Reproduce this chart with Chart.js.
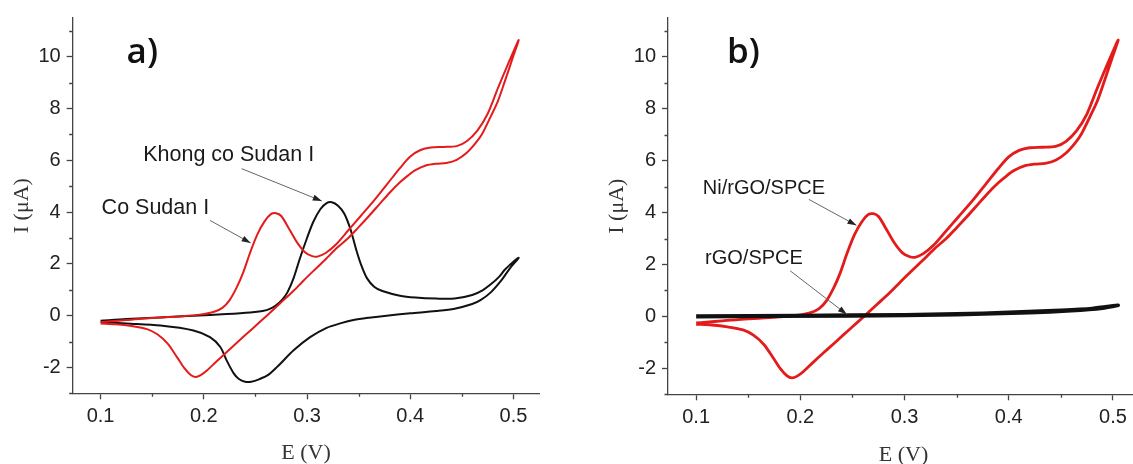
<!DOCTYPE html>
<html>
<head>
<meta charset="utf-8">
<script src="https://cdn.jsdelivr.net/npm/chart.js@4.4.1/dist/chart.umd.min.js"></script>
<style>
    html, body { margin: 0; padding: 0; background: #fff; }
    body { width: 1133px; height: 464px; overflow: hidden; position: relative; }
    .panel { position: absolute; top: 0; height: 464px; }
    #panel-a { left: 0; width: 566px; }
    #panel-b { left: 595px; width: 560px; }
</style>
</head>
<body>
<div class="panel" id="panel-a"><canvas id="chart-a"></canvas></div>
<div class="panel" id="panel-b"><canvas id="chart-b"></canvas></div>
<script>
// E (V) / I (uA), scan order: forward then reverse
const redE = [
    0.100, 0.110, 0.125, 0.140, 0.160, 0.180, 0.196, 0.210, 0.218, 0.225,
    0.232, 0.238, 0.245, 0.252, 0.259, 0.265, 0.270, 0.275, 0.282, 0.290,
    0.298, 0.305, 0.310, 0.318, 0.328, 0.340, 0.352, 0.365, 0.378, 0.390,
    0.400, 0.410, 0.420, 0.432, 0.445, 0.455, 0.465, 0.475, 0.485, 0.495, 0.505,
    0.500, 0.492, 0.485, 0.478, 0.470, 0.464, 0.455, 0.445, 0.435, 0.425,
    0.415, 0.405, 0.398, 0.390, 0.380, 0.370, 0.360, 0.350, 0.340, 0.329,
    0.318, 0.306, 0.296, 0.287, 0.274, 0.261, 0.250, 0.241, 0.232, 0.222,
    0.212, 0.203, 0.197, 0.192, 0.187, 0.181, 0.174, 0.165, 0.155, 0.145,
    0.130, 0.115, 0.100,
];
const redI = [
    -0.25, -0.22, -0.17, -0.12, -0.07, -0.02, 0.04, 0.15, 0.30, 0.60,
    1.10, 1.65, 2.45, 3.15, 3.65, 3.92, 3.96, 3.85, 3.40, 2.85,
    2.45, 2.30, 2.28, 2.42, 2.75, 3.30, 3.85, 4.45, 5.10, 5.70,
    6.15, 6.40, 6.50, 6.52, 6.55, 6.75, 7.15, 7.80, 8.80, 9.75, 10.65,
    10.05, 9.10, 8.30, 7.70, 7.05, 6.70, 6.30, 6.02, 5.90, 5.87,
    5.80, 5.62, 5.42, 5.15, 4.75, 4.30, 3.85, 3.42, 3.00, 2.62,
    2.18, 1.72, 1.33, 0.96, 0.48, 0.00, -0.40, -0.72, -1.05, -1.41,
    -1.78, -2.12, -2.30, -2.37, -2.28, -2.02, -1.60, -1.08, -0.72, -0.52,
    -0.40, -0.33, -0.30,
];

const blackE = [
    0.100, 0.125, 0.157, 0.190, 0.222, 0.245, 0.257, 0.264, 0.270, 0.276,
    0.281, 0.287, 0.293, 0.300, 0.306, 0.313, 0.319, 0.324, 0.330, 0.336,
    0.342, 0.348, 0.353, 0.358, 0.365, 0.373, 0.390, 0.405, 0.425, 0.443,
    0.460, 0.470, 0.478, 0.486, 0.492, 0.505,
    0.496, 0.488, 0.478, 0.468, 0.460, 0.443, 0.425, 0.400, 0.375, 0.360,
    0.345, 0.333, 0.319, 0.303, 0.287, 0.271, 0.262, 0.254, 0.246, 0.240,
    0.234, 0.229, 0.222, 0.216, 0.206, 0.190, 0.158, 0.125, 0.100,
];
const blackI = [
    -0.20, -0.13, -0.07, 0.00, 0.06, 0.12, 0.18, 0.26, 0.40, 0.62,
    0.90, 1.45, 2.20, 3.00, 3.62, 4.12, 4.35, 4.38, 4.25, 3.95,
    3.35, 2.50, 1.90, 1.45, 1.12, 0.95, 0.77, 0.70, 0.66, 0.66,
    0.80, 0.98, 1.21, 1.50, 1.79, 2.24,
    1.80, 1.35, 0.90, 0.60, 0.45, 0.27, 0.18, 0.09, -0.01, -0.08,
    -0.17, -0.29, -0.47, -0.83, -1.34, -1.98, -2.30, -2.45, -2.55, -2.55,
    -2.45, -2.23, -1.72, -1.21, -0.83, -0.57, -0.38, -0.30, -0.24,
];

const rgoE = [0.100, 0.200, 0.300, 0.350, 0.400, 0.450, 0.480, 0.505, 0.490, 0.460, 0.420, 0.350, 0.250, 0.100];
const rgoI = [0.02, 0.04, 0.07, 0.10, 0.16, 0.24, 0.31, 0.43, 0.32, 0.22, 0.14, 0.07, 0.02, -0.01];

const xTickStep = 0.1;
const yTickStep = 2;

const RED   = '#e31b1b';
const BLACK = '#111111';
const AXIS  = '#444444';
const SANS  = '"Liberation Sans", Arial, sans-serif';
const SERIF = '"Liberation Serif", "Times New Roman", serif';

function pts(es, is) {
    return es.map((e, i) => ({ x: e, y: is[i] }));
}

// minor ticks halfway between the major ones, outward like the majors
const minorTicks = {
    id: 'minorTicks',
    afterDraw(chart) {
        const { ctx, scales: { x, y } } = chart;
        const mids = (s) => {
            const v = s.ticks.map(t => t.value);
            const step = v[1] - v[0];
            const out = [];
            for (let k = 0; k <= v.length; k++) {
                const m = (k < v.length ? v[k] : v[k - 1] + step) - step / 2;
                if (m >= s.min - 1e-9 && m <= s.max + 1e-9) out.push(m);
            }
            return out;
        };
        ctx.save();
        ctx.strokeStyle = AXIS;
        ctx.lineWidth = 1.3;
        ctx.beginPath();
        for (const m of mids(x)) {
            const px = Math.round(x.getPixelForValue(m)) + 0.5;
            ctx.moveTo(px, x.top);
            ctx.lineTo(px, x.top + 3.5);
        }
        for (const m of mids(y)) {
            const py = Math.round(y.getPixelForValue(m)) + 0.5;
            ctx.moveTo(y.right, py);
            ctx.lineTo(y.right - 3.5, py);
        }
        ctx.stroke();
        ctx.restore();
    },
};

// panel letter, curve labels and their arrows, placed in data units
function notesPlugin(tag, notes) {
    return {
        id: 'notes',
        afterDatasetsDraw(chart) {
            const { ctx, scales: { x, y } } = chart;
            ctx.save();
            ctx.fillStyle = '#111';
            ctx.font = '600 35px "Open Sans", sans-serif';
            ctx.textBaseline = 'alphabetic';
            ctx.fillText(tag.text, x.getPixelForValue(tag.e), y.getPixelForValue(tag.i));
            for (const n of notes) {
                ctx.font = n.size + 'px ' + SANS;
                ctx.fillStyle = '#1a1a1a';
                ctx.fillText(n.text, x.getPixelForValue(n.e), y.getPixelForValue(n.i));
                const x1 = x.getPixelForValue(n.from[0]), y1 = y.getPixelForValue(n.from[1]);
                const x2 = x.getPixelForValue(n.to[0]),   y2 = y.getPixelForValue(n.to[1]);
                ctx.strokeStyle = '#666';
                ctx.lineWidth = 1;
                ctx.beginPath();
                ctx.moveTo(x1, y1);
                ctx.lineTo(x2, y2);
                ctx.stroke();
                const a = Math.atan2(y2 - y1, x2 - x1);
                ctx.fillStyle = '#222';
                ctx.beginPath();
                ctx.moveTo(x2, y2);
                ctx.lineTo(x2 - 9 * Math.cos(a) + 3 * Math.sin(a), y2 - 9 * Math.sin(a) - 3 * Math.cos(a));
                ctx.lineTo(x2 - 9 * Math.cos(a) - 3 * Math.sin(a), y2 - 9 * Math.sin(a) + 3 * Math.cos(a));
                ctx.closePath();
                ctx.fill();
            }
            ctx.restore();
        },
    };
}

function cvOpts(yWidth, xHeight, padRight, titleBottom) {
    const tickFont = { family: SANS, size: 20 };
    return {
        responsive: true,
        maintainAspectRatio: false,
        devicePixelRatio: 1,
        animation: false,
        layout: { padding: { top: 15, right: padRight, bottom: 0, left: 0 } },
        plugins: { legend: { display: false }, tooltip: { enabled: false } },
        elements: { point: { radius: 0 } },
        scales: {
            x: {
                type: 'linear',
                min: 0.073,
                max: 0.525,
                border: { display: true, color: AXIS, width: 1.3 },
                grid:   { display: true, drawOnChartArea: false, drawTicks: true, tickLength: 6, tickColor: AXIS, tickWidth: 1.3 },
                ticks:  { stepSize: xTickStep, includeBounds: false, color: '#222', font: tickFont, padding: 5, maxRotation: 0,
                          callback: v => v.toFixed(1) },
                title:  { display: true, text: 'E (V)', color: '#333', font: { family: SERIF, size: 22, lineHeight: titleBottom },
                          padding: 0 },
                afterFit: s => { s.height = xHeight; },
            },
            y: {
                type: 'linear',
                min: -3,
                max: 11.5,
                border: { display: true, color: AXIS, width: 1.3 },
                grid:   { display: true, drawOnChartArea: false, drawTicks: true, tickLength: 6, tickColor: AXIS, tickWidth: 1.3 },
                ticks:  { stepSize: yTickStep, includeBounds: false, color: '#222', font: tickFont, padding: 6 },
                title:  { display: true, text: 'I (μA)', color: '#333', font: { family: SERIF, size: 22, lineHeight: 1.2 },
                          padding: { top: 9, bottom: 0 } },
                afterFit: s => { s.width = yWidth; },
            },
        },
    };
}

new Chart(document.getElementById('chart-a'), {
    type: 'scatter',
    data: {
        datasets: [
            { label: 'Co Sudan I', data: pts(redE, redI), showLine: true, borderColor: RED, borderWidth: 2, tension: 0.3 },
            { label: 'Khong co Sudan I', data: pts(blackE, blackI), showLine: true, borderColor: BLACK, borderWidth: 2, tension: 0.3 },
        ],
    },
    options: cvOpts(72.7, 70.7, 26.7, 1.0),
    plugins: [minorTicks, notesPlugin({ text: 'a)', e: 0.1252, i: 9.77 }, [
        { text: 'Khong co Sudan I', size: 21.5, e: 0.1413, i: 5.97, from: [0.2366, 5.68], to: [0.3143, 4.43] },
        { text: 'Co Sudan I',       size: 21.5, e: 0.1010, i: 3.92, from: [0.2060, 3.68], to: [0.2454, 2.81] },
    ])],
});

new Chart(document.getElementById('chart-b'), {
    type: 'scatter',
    data: {
        datasets: [
            { label: 'rGO/SPCE', data: pts(rgoE, rgoI), showLine: true, borderColor: BLACK, borderWidth: 3.5, tension: 0.3 },
            { label: 'Ni/rGO/SPCE', data: pts(redE, redI), showLine: true, borderColor: RED, borderWidth: 2.8, tension: 0.3 },
        ],
    },
    options: cvOpts(73, 69.7, 16, 0.8),
    plugins: [minorTicks, notesPlugin({ text: 'b)', e: 0.1295, i: 9.77 }, [
        { text: 'Ni/rGO/SPCE', size: 20, e: 0.1064, i: 4.71, from: [0.2082, 4.51], to: [0.2538, 3.51] },
        { text: 'rGO/SPCE',    size: 20, e: 0.1086, i: 2.03, from: [0.1902, 1.76], to: [0.2446, 0.08] },
    ])],
});
</script>
</body>
</html>
